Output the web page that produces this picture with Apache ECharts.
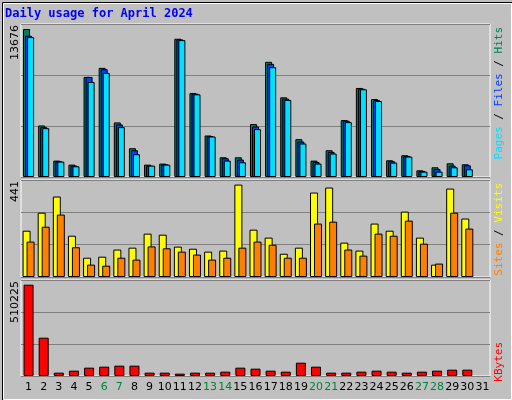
<!DOCTYPE html>
<html><head><meta charset="utf-8">
<script src="https://cdn.jsdelivr.net/npm/echarts@6/dist/echarts.min.js"></script>
<style>html,body{margin:0;padding:0;background:#c0c0c0}#c{width:512px;height:400px}</style>
</head><body><div id="c"></div>
<script>
var days=[];for(var i=1;i<=31;i++)days.push(String(i));
var weekend=['6','7','13','14','20','21','27','28'];
var hits=[13676,4765,1516,1145,9251,10087,5043,2661,1145,1238,12778,7766,3837,1825,1825,4889,10644,7364,3496,1516,2475,5260,8230,7209,1547,2011,619,897,1269,1176,null];
var files=[13057,4610,1454,1052,9251,9963,4858,2475,1052,1176,12716,7704,3775,1733,1609,4672,10458,7240,3280,1392,2321,5198,8168,7116,1454,1949,557,743,1052,1083,null];
var pages=[12933,4517,1423,990,8787,9622,4610,2104,1052,1145,12654,7642,3744,1516,1361,4424,10148,7116,3094,1238,2166,5074,8106,7023,1330,1887,495,495,897,712,null];
var visits=[221,307,384,197,92,97,131,140,207,202,145,135,121,126,441,226,188,111,140,403,427,164,126,255,221,312,188,59,422,279,null];
var sites=[169,240,298,142,59,54,92,83,146,137,121,107,83,92,140,169,154,92,92,255,264,131,102,207,197,269,159,64,307,231,null];
var kbytes=[510225,214100,18620,29800,46550,52140,57720,57720,18620,18620,13030,18620,18620,24200,46550,40960,29800,24200,74480,52140,18620,18620,24200,29800,24200,18620,24200,29800,35380,35380,null];
var maxHits=13676,maxVisits=441,maxK=510225;
var topMax=maxHits*152/147, midMax=maxVisits*97/92.4, botMax=maxK*96/91.3;
var ch=echarts.init(document.getElementById('c'));
function ya(i,m){return {gridIndex:i,min:0,max:m,interval:m/3,axisLabel:{show:false},axisTick:{show:false},axisLine:{show:false},splitLine:{lineStyle:{color:'#808080',width:1}}};}
function xa(i,show){return {gridIndex:i,type:'category',data:days,axisTick:{show:false},axisLine:{show:false},
 axisLabel:{show:show,margin:6,fontFamily:'DejaVu Sans',fontSize:11,interval:0,color:function(v){return weekend.indexOf(v)>=0?'#008040':'#000';}}};}
var bs={borderColor:'#000',borderWidth:1};
function g(top,h){return {left:21,right:22,top:top,height:h,show:true,backgroundColor:'#c0c0c0',borderColor:'#fff',borderWidth:1,containLabel:false};}
var rot=Math.PI/2, lf='11px "DejaVu Sans Mono"';
ch.setOption({
 animation:false,backgroundColor:'#c0c0c0',
 grid:[g(24,153),g(180,97),g(280,96)],
 xAxis:[xa(0,false),xa(1,false),xa(2,true)],
 yAxis:[ya(0,topMax),ya(1,midMax),ya(2,botMax)],
 series:[
  {type:'bar',xAxisIndex:0,yAxisIndex:0,data:hits,barWidth:7,barGap:'-71%',itemStyle:Object.assign({color:'#00805c'},bs)},
  {type:'bar',xAxisIndex:0,yAxisIndex:0,data:files,barWidth:7,barGap:'-71%',itemStyle:Object.assign({color:'#0040ff'},bs)},
  {type:'bar',xAxisIndex:0,yAxisIndex:0,data:pages,barWidth:7,barGap:'-71%',itemStyle:Object.assign({color:'#00e0ff'},bs)},
  {type:'bar',xAxisIndex:1,yAxisIndex:1,data:visits,barWidth:8,barGap:'-50%',itemStyle:Object.assign({color:'#ffff00'},bs)},
  {type:'bar',xAxisIndex:1,yAxisIndex:1,data:sites,barWidth:8,barGap:'-50%',itemStyle:Object.assign({color:'#ff8000'},bs)},
  {type:'bar',xAxisIndex:2,yAxisIndex:2,data:kbytes,barWidth:10,itemStyle:Object.assign({color:'#ff0000'},bs)}
 ],
 graphic:[
  {type:'rect',left:0,top:0,shape:{width:511,height:399},style:{fill:'none',stroke:'#000',lineWidth:1}},
  {type:'rect',left:1,top:1,shape:{width:508,height:396},style:{fill:'none',stroke:'#fff',lineWidth:1}},
  {type:'text',left:5,top:8,style:{text:'Daily usage for April 2024',fill:'#0000ff',font:'bold 12px "DejaVu Sans Mono"'}},
  {type:'text',x:10,y:25,rotation:rot,style:{text:String(maxHits),fill:'#000',font:'11px "DejaVu Sans"',align:'right',verticalAlign:'top'}},
  {type:'text',x:10,y:181,rotation:rot,style:{text:String(maxVisits),fill:'#000',font:'11px "DejaVu Sans"',align:'right',verticalAlign:'top'}},
  {type:'text',x:10,y:281,rotation:rot,style:{text:String(maxK),fill:'#000',font:'11px "DejaVu Sans"',align:'right',verticalAlign:'top'}},
  {type:'text',x:494,y:27,rotation:rot,style:{align:'right',verticalAlign:'top',font:lf,
    text:'{p|Pages}{s| / }{f|Files}{s| / }{h|Hits}',rich:{p:{fill:'#00e0ff',font:lf},s:{fill:'#000',font:lf},f:{fill:'#0040ff',font:lf},h:{fill:'#00805c',font:lf}}}},
  {type:'text',x:494,y:183,rotation:rot,style:{align:'right',verticalAlign:'top',font:lf,
    text:'{o|Sites}{s| / }{y|Visits}',rich:{o:{fill:'#ff8000',font:lf},s:{fill:'#000',font:lf},y:{fill:'#ffff00',font:lf}}}},
  {type:'text',x:494,y:342,rotation:rot,style:{align:'right',verticalAlign:'top',font:lf,text:'KBytes',fill:'#ff0000'}}
 ]
});
</script></body></html>
